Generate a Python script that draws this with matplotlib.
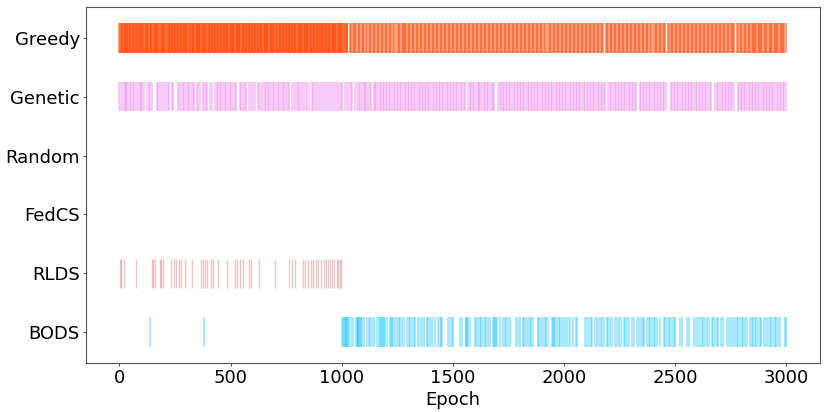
import matplotlib.pyplot as plt

methods = ['Greedy', 'Genetic', 'Random', 'FedCS', 'RLDS', 'BODS']

greedy = [
    0, 3, 7, 10, 12, 16, 19, 24, 27, 29, 33, 36, 41, 44, 46, 50, 54, 57, 61, 63,
    67, 71, 74, 76, 80, 85, 88, 90, 94, 97, 102, 104, 108, 111, 115, 118, 121, 125, 128, 131,
    136, 139, 142, 144, 149, 152, 155, 159, 162, 166, 169, 171, 176, 180, 183, 186, 190, 192, 197, 200,
    203, 207, 211, 213, 217, 221, 224, 227, 230, 235, 238, 240, 244, 248, 251, 255, 258, 262, 265, 267,
    272, 275, 279, 282, 285, 289, 292, 296, 299, 301, 306, 309, 313, 316, 319, 323, 326, 330, 333, 336,
    340, 343, 347, 350, 353, 357, 360, 364, 367, 370, 374, 377, 381, 384, 387, 391, 394, 398, 401, 404,
    408, 411, 415, 418, 421, 425, 428, 432, 435, 438, 442, 445, 449, 452, 455, 459, 462, 466, 469, 472,
    476, 479, 483, 486, 489, 493, 496, 500, 503, 506, 510, 513, 517, 520, 523, 527, 530, 534, 537, 540,
    544, 547, 551, 554, 557, 561, 564, 568, 571, 574, 578, 581, 585, 588, 591, 595, 598, 602, 605, 608,
    612, 615, 619, 622, 625, 629, 632, 636, 639, 642, 646, 649, 653, 656, 659, 663, 666, 670, 673, 676,
    680, 683, 687, 690, 693, 697, 700, 704, 707, 710, 714, 717, 721, 724, 727, 731, 734, 738, 741, 744,
    748, 751, 755, 758, 761, 765, 768, 772, 775, 778, 782, 785, 789, 792, 795, 799, 802, 806, 809, 812,
    816, 819, 823, 826, 829, 833, 836, 840, 843, 846, 850, 853, 857, 860, 863, 867, 870, 874, 877, 880,
    884, 887, 891, 894, 897, 901, 904, 908, 911, 914, 918, 921, 925, 928, 931, 935, 938, 942, 945, 948,
    952, 955, 959, 962, 965, 969, 972, 976, 979, 982, 986, 989, 993, 996, 999, 1003, 1006, 1010, 1014, 1018,
    1022, 1025,
    1037, 1043, 1049, 1054, 1061, 1066, 1073, 1078, 1084, 1091, 1096, 1102, 1109, 1114, 1121, 1126, 1132, 1139, 1144, 1150,
    1157, 1162, 1168, 1175, 1180, 1186, 1193, 1198, 1204, 1211, 1216, 1222, 1229, 1234,
    1246, 1252, 1258, 1264, 1269, 1274, 1280, 1285, 1290, 1296, 1303, 1308, 1314, 1321, 1326, 1332, 1339, 1344, 1350, 1357, 1362,
    1368, 1375, 1380, 1386, 1393, 1398, 1404, 1411, 1416, 1422, 1429, 1434, 1440, 1447, 1452, 1458, 1465, 1470, 1476, 1483,
    1488, 1494, 1501, 1506, 1512, 1519, 1524, 1530, 1537, 1542, 1548, 1555, 1560, 1566, 1573, 1578, 1584, 1591, 1596, 1602,
    1609, 1614, 1620, 1627, 1632, 1638, 1645, 1650, 1656, 1663, 1668, 1674, 1681, 1686, 1692, 1699, 1704, 1710, 1717, 1722,
    1728, 1735, 1740, 1746, 1753, 1758, 1764, 1771, 1776, 1782, 1789, 1794, 1800, 1807, 1812, 1818, 1825, 1830, 1836, 1843,
    1848, 1854, 1861, 1866, 1872, 1879, 1884, 1890, 1897, 1902, 1908, 1915, 1924, 1930, 1937, 1942, 1948, 1955, 1960, 1966,
    1973, 1978, 1984, 1991, 1996, 2002, 2009, 2014, 2020, 2027, 2032, 2038, 2045, 2050, 2056, 2063, 2068, 2074, 2081, 2086,
    2092, 2099, 2104, 2110, 2117, 2122, 2128, 2135, 2140, 2146, 2153, 2158, 2164, 2171, 2176,
    2187, 2193, 2199, 2205, 2211, 2217, 2223, 2229, 2235, 2241, 2247, 2253, 2259, 2265, 2271, 2277, 2283, 2289, 2295, 2301,
    2307, 2313, 2319, 2325, 2331, 2337, 2343, 2349, 2355, 2361, 2367, 2373, 2379, 2385, 2390,
    2401, 2407, 2413, 2419, 2425, 2431, 2437, 2443, 2449, 2455,
    2467, 2473, 2479, 2485, 2491, 2497, 2503, 2509, 2515, 2521, 2527, 2533, 2539, 2545, 2551, 2557, 2563, 2569, 2575, 2581,
    2587, 2593, 2599, 2605, 2611, 2617, 2623, 2629, 2635, 2641, 2647, 2653, 2659, 2665, 2671, 2677, 2683, 2689, 2695, 2701,
    2707, 2713, 2719, 2725, 2731, 2737, 2743, 2749, 2755, 2761, 2766,
    2777, 2783, 2789, 2795, 2801, 2807, 2813, 2819, 2825, 2831, 2837, 2843, 2848, 2854, 2859, 2865, 2870, 2876, 2881, 2887,
    2892, 2898, 2903, 2909, 2914, 2920, 2925, 2931, 2936, 2942, 2947, 2953, 2958, 2964, 2969, 2975, 2980, 2986, 2991, 2997,
]

genetic = [
    0, 9, 16, 24, 28, 31, 37, 46, 54, 61, 68, 76, 86, 94, 98, 103, 113, 124, 133, 139,
    146, 168, 176, 183, 191, 203, 209, 217, 225, 235, 243, 262, 270, 277, 285, 292, 299, 307, 314, 322,
    329, 337, 347, 355, 362, 374, 381, 389, 396, 407, 417, 429, 437, 444, 451, 459, 466, 474, 481, 489,
    496, 504, 511, 518, 526, 541, 548, 556, 563, 571, 585, 593, 603, 612, 623, 630, 638, 645, 653, 660,
    667, 675, 682, 690, 697, 705, 712, 720, 727, 735, 742, 749, 757, 764, 776, 787, 794, 802, 809, 816,
    827, 836, 846, 854, 866, 873, 881, 891, 898, 906, 916, 925, 936, 943, 954, 962, 970, 980, 988, 995,
    1003, 1015, 1025, 1033, 1040, 1048, 1059, 1070, 1077, 1084, 1090, 1098, 1105, 1111, 1119, 1126, 1131,
    1143, 1150, 1156, 1164, 1171, 1177, 1185, 1192, 1198, 1205, 1213, 1219, 1226, 1234, 1240, 1247, 1255, 1262, 1268, 1276,
    1283, 1289, 1297, 1304, 1310, 1318, 1325, 1331, 1339, 1346, 1352, 1360, 1367, 1373, 1381, 1388, 1394, 1402, 1409, 1415,
    1423, 1430, 1436, 1444, 1451, 1457, 1465, 1472, 1478, 1486, 1493, 1499, 1507, 1514, 1520, 1528, 1535, 1541, 1549, 1555,
    1569, 1576, 1582, 1590, 1597, 1603, 1611, 1618, 1624, 1632, 1639, 1645, 1653, 1660, 1666, 1674, 1681, 1687,
    1703, 1710, 1716, 1724, 1731, 1737, 1745, 1752, 1758, 1766, 1773, 1779, 1787, 1794, 1800, 1808, 1815, 1821, 1829, 1836,
    1842, 1850, 1857, 1863, 1871, 1878, 1884, 1892, 1899, 1905, 1913, 1920, 1926, 1934, 1941, 1947, 1955, 1962, 1968, 1976,
    1983, 1989, 1997, 2004, 2010, 2018, 2025, 2031, 2039, 2046, 2052, 2060, 2067, 2073, 2081, 2088, 2094, 2102, 2109, 2115,
    2123, 2130, 2136, 2144, 2151, 2157, 2165, 2172, 2178, 2185,
    2199, 2206, 2212, 2220, 2227, 2233, 2241, 2248, 2254, 2262, 2269, 2275, 2283, 2290, 2296, 2304, 2311, 2317, 2324,
    2340, 2346, 2354, 2361, 2367, 2375, 2382, 2388, 2396, 2403, 2409, 2417, 2424, 2430, 2438, 2445, 2451, 2459,
    2480, 2487, 2493, 2501, 2508, 2514, 2522, 2529, 2535, 2543, 2550, 2556, 2564, 2571, 2577, 2585, 2592, 2598, 2606, 2613,
    2619, 2627, 2634, 2640, 2648, 2655, 2663,
    2680, 2687, 2693, 2701, 2708, 2714, 2722, 2729, 2735, 2743, 2750, 2756, 2764,
    2781, 2788, 2794, 2802, 2809, 2815, 2823, 2830, 2836, 2844, 2851, 2857, 2865, 2872, 2878, 2886, 2893, 2899, 2907, 2914,
    2920, 2928, 2935, 2941, 2949, 2956, 2962, 2970, 2977, 2983, 2991, 2998,
]

random_sel = []
fedcs = []

rlds = [
    4, 9, 19, 74, 146, 153, 162, 182, 189, 198, 234, 246, 255, 270, 276, 295, 325, 365, 377, 383,
    392, 410, 422, 444, 484, 521, 529, 544, 556, 581, 593, 630, 700, 764, 776, 788, 824, 836, 848, 860,
    872, 884, 895, 909, 919, 928, 937, 946, 955, 967, 978, 983, 991, 998,
]

bods = [
    136, 381,
    1003, 1006, 1010, 1014, 1018, 1021, 1025, 1029, 1035, 1043, 1050, 1065, 1068, 1071, 1075, 1079, 1082, 1085,
    1092, 1099, 1114, 1122, 1129, 1137, 1144, 1159, 1167, 1174, 1178, 1182, 1186, 1190, 1194, 1204, 1219, 1223, 1227, 1231,
    1241, 1248, 1256, 1263, 1271, 1278, 1293, 1301, 1308, 1316, 1323, 1330, 1345, 1353, 1360, 1368, 1383, 1390, 1397, 1405,
    1420, 1435, 1440, 1446, 1452, 1479, 1487, 1494, 1500, 1532, 1539, 1557, 1561, 1565, 1570, 1575, 1599, 1606, 1614, 1621,
    1628, 1636, 1643, 1651, 1658, 1666, 1681, 1686, 1690, 1695, 1700, 1710, 1725, 1733, 1740, 1748, 1755, 1785, 1792, 1800,
    1815, 1822, 1830, 1837, 1845, 1852, 1859, 1882, 1889, 1897, 1904, 1912, 1919, 1926, 1944, 1949, 1955, 1961, 1967, 1975,
    1983, 1992, 2001, 2008, 2016, 2028, 2038, 2053, 2060, 2093, 2102, 2113, 2120, 2127, 2138, 2147, 2157, 2165, 2172, 2180,
    2192, 2197, 2206, 2217, 2227, 2236, 2247, 2257, 2269, 2276, 2284, 2291, 2306, 2314, 2329, 2336, 2344, 2355, 2361, 2373,
    2381, 2388, 2396, 2403, 2411, 2418, 2433, 2448, 2455, 2463, 2470, 2478, 2485, 2493, 2500, 2522, 2530, 2552, 2560, 2585,
    2594, 2604, 2612, 2619, 2627, 2634, 2642, 2653, 2664, 2671, 2679, 2686, 2694, 2704, 2716, 2734, 2743, 2749, 2758, 2768,
    2776, 2783, 2791, 2798, 2805, 2813, 2823, 2835, 2843, 2850, 2858, 2865, 2873, 2880, 2887, 2898, 2910, 2917, 2925, 2932,
    2940, 2947, 2954, 2962, 2969, 2992, 2999,
]

series = [greedy, genetic, random_sel, fedcs, rlds, bods]
colors = ['orangered', 'violet', 'gray', 'gray', 'indianred', 'deepskyblue']
alphas = [0.5, 0.4, 0.4, 0.4, 0.35, 0.4]
widths = [1.5, 1.5, 1.0, 1.0, 1.0, 1.2]
offsets = [5, 4, 3, 2, 1, 0]

fig = plt.figure(figsize=(8.31, 4.12), dpi=100)
ax = fig.add_axes([0.1035, 0.119, 0.883, 0.864])

for pos, c, a, w, off in zip(series, colors, alphas, widths, offsets):
    ax.eventplot(pos, lineoffsets=off, linelengths=0.5, linewidths=w,
                 colors=c, alpha=a)

ax.set_xlim(-150, 3150)
ax.set_ylim(-0.525, 5.525)
ax.set_yticks(offsets)
ax.set_yticklabels(methods, fontsize=13)
ax.set_xticks([0, 500, 1000, 1500, 2000, 2500, 3000])
ax.tick_params(axis='x', labelsize=13)
ax.set_xlabel('Epoch', fontsize=13, labelpad=3)

for s in ax.spines.values():
    s.set_color('#555555')
ax.tick_params(colors='#555555', labelcolor='black', length=2, pad=2.5)

plt.savefig('out.png', dpi=100)
